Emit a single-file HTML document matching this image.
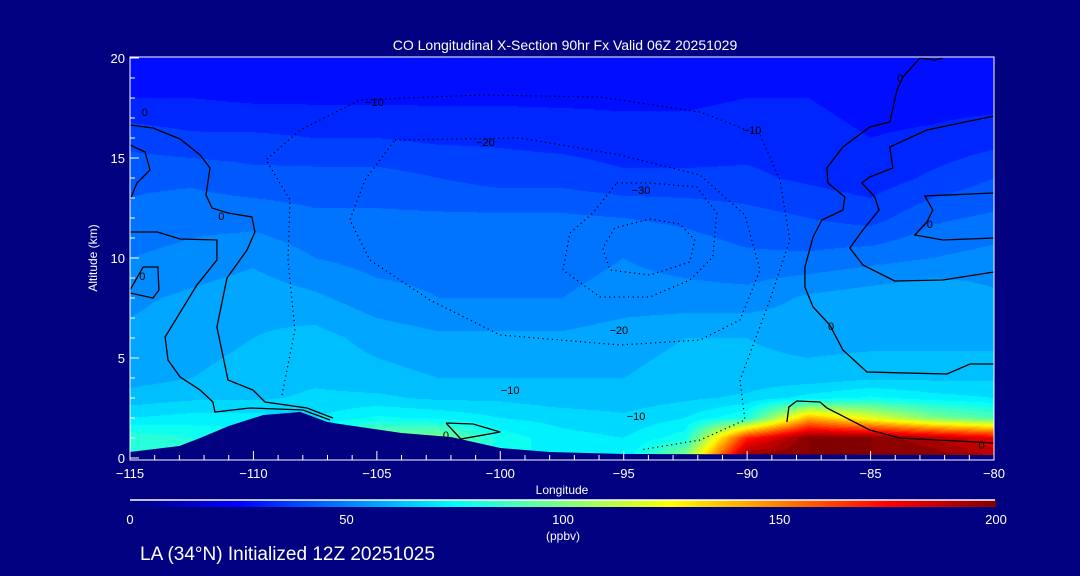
<!DOCTYPE html>
<html><head><meta charset="utf-8">
<style>
html,body{margin:0;padding:0;background:#000080;}
#wrap{position:relative;width:1080px;height:576px;background:#000080;overflow:hidden;font-family:"Liberation Sans",sans-serif;}
canvas,svg{position:absolute;left:0;top:0;}
</style></head>
<body>
<div id="wrap">
<canvas id="cv" width="1080" height="576"></canvas>
<svg id="sv" width="1080" height="576"></svg>
</div>
<script>
// ---- data ----
const lons = [-115,-112.5,-110,-107.5,-105,-102.5,-100,-97.5,-95,-92.5,-90,-87.5,-85,-82.5,-80];
const alts = [0,1,2,3,4,6,8,10,12,14,16,18,20];
const co0  = [84,80,80,80,96,92,78,72,70,105,200,200,200,200,190];
const co1  = [84,80,78,80,100,100,78,72,70,78,170,200,200,190,180];
const co2  = [70,72,72,70,76,74,70,68,66,70,80,140,120,100,90];
const co3  = [62,64,64,66,66,64,64,62,62,64,66,72,76,72,70];
const co4  = [58,60,62,64,62,60,60,60,60,62,62,62,64,64,64];
const co6  = [56,58,60,62,58,56,56,56,58,60,60,58,58,58,58];
const co8  = [54,56,58,56,52,50,50,50,52,52,52,56,58,60,56];
const co10 = [50,52,54,50,48,48,48,48,50,48,46,46,48,50,52];
const co12 = [46,48,48,46,46,46,46,46,45,44,42,40,38,44,46];
const co14 = [44,44,42,42,42,40,38,38,36,36,36,34,32,36,40];
const co16 = [38,36,36,35,35,34,34,33,32,32,33,32,30,31,33];
const co18 = [30,30,29,29,29,29,29,29,29,29,30,30,28,28,28];
const co20 = [28,28,28,28,28,28,28,28,28,28,28,28,27,27,27];
const coRows = [co0,co1,co2,co3,co4,co6,co8,co10,co12,co14,co16,co18,co20];

const terrainLon = [-115,-113,-112.16,-111,-109.6,-108.1,-107,-106.5,-104,-102,-100,-98,-95,-80];
const terrainAlt = [0.3,0.6,1.0,1.6,2.15,2.3,1.8,1.7,1.25,1.05,0.5,0.3,0.2,0.15];

// contour lines: [lon...], [alt...]
const c0aLon = [-115,-114.07,-112.97,-112.16,-111.76,-111.92,-111.68,-111.03,-110.06,-109.94,-110.26,-111.07,-111.48,-111.03,-110.02,-109.53,-107.83,-106.78];
const c0aAlt = [16.65,16.5,15.95,15.15,14.5,13.15,12.5,12.25,12.05,11.3,10.4,9.0,6.55,3.9,3.4,2.8,2.5,2.0];
const c0bLon = [-115,-113.9,-112.97,-111.48,-111.48,-112.29,-113.58,-113.46,-112.97,-112.16,-111.64,-111.56,-110.14,-107.99,-106.9];
const c0bAlt = [11.3,11.3,10.95,10.9,9.9,8.65,6.05,4.9,4.05,3.4,2.8,2.3,2.5,2.4,1.9];
const c0cLon = [-115,-114.39,-114.19,-114.72,-115];
const c0cAlt = [15.65,15.3,14.4,13.75,12.9];
const c0dLon = [-115,-114.47,-113.87,-113.83,-114.07,-115];
const c0dAlt = [8.4,9.55,9.55,8.4,8.0,8.25];
const c0eLon = [-83.0,-83.69,-83.93,-84.22,-85.03,-86.12,-86.77,-86.73,-86.04,-86.12,-86.97,-87.33,-87.66,-87.66,-87.33,-86.65,-86.12,-85.15,-81.91,-80.97,-80];
const c0eAlt = [20,19.05,18.4,16.8,16.55,15.55,14.5,13.75,13.05,12.4,11.9,11.05,9.55,8.55,7.55,6.65,5.4,4.3,4.2,4.7,4.7];
const c0fLon = [-80,-82.72,-84.22,-84.1,-85.03,-85.35,-84.83,-84.66,-85.31,-85.84,-85.31,-84.02,-82.07,-80];
const c0fAlt = [17.1,16.4,15.55,14.5,14.05,13.75,13.05,12.4,11.4,10.5,9.65,8.85,8.9,9.3];
const c0gLon = [-80,-82.8,-82.48,-82.72,-83.21,-82.07,-80];
const c0gAlt = [13.25,13.1,12.4,11.8,11.15,10.9,11.0];
const c0hLon = [-88.39,-88.31,-87.99,-87.05,-86.77,-85.03,-83.81,-80];
const c0hAlt = [1.8,2.55,2.85,2.8,2.5,1.4,1.0,0.75];
const c0iLon = [-83.0,-82.4,-82.07];
const c0iAlt = [20,19.9,20];
const c0jLon = [-102.2,-101.1,-100.0,-101.6,-102.2];
const c0jAlt = [1.75,1.7,1.3,0.95,1.75];
const m30Lon = [-93.94,-92.73,-92.12,-92.32,-93.94,-95.56,-95.85,-95.36,-93.94];
const m30Alt = [11.95,11.7,10.9,9.8,9.15,9.4,10.5,11.5,11.95];
const m20aLon = [-95.28,-93.94,-92.04,-91.23,-91.39,-92.32,-93.94,-95.97,-97.46,-97.18,-96.25,-95.28];
const m20aAlt = [13.75,13.75,13.55,12.25,10.05,8.9,8.05,8.05,9.4,11.25,12.25,13.75];
const m20bLon = [-104.27,-99.2,-95.15,-91.91,-90.09,-89.48,-90.29,-91.91,-95.15,-100.01,-102.85,-105.28,-106.09,-105.48,-104.27];
const m20bAlt = [15.9,16.0,15.15,14.15,12.15,9.4,6.9,5.9,5.65,6.15,7.9,9.9,11.9,13.9,15.9];
const m10Lon = [-108.84,-108.32,-108.6,-108.52,-109.49,-108.11,-105.68,-100.82,-95.96,-91.91,-89.48,-88.67,-88.27,-89.08,-90.29,-90.09,-91.91,-94.34];
const m10Alt = [3.15,6.4,9.9,12.9,14.9,16.4,17.9,18.15,18.05,17.3,16.15,13.9,10.9,7.9,3.9,1.9,0.9,0.4];

const xTicks = [-115,-110,-105,-100,-95,-90,-85,-80];
const xTickLabels = ['\u2212115','\u2212110','\u2212105','\u2212100','\u221295','\u221290','\u221285','\u221280'];
const yTicks = [0,5,10,15,20];
const yTickLabels = ['0','5','10','15','20'];
const cbTicks = [0,50,100,150,200];
const cbTickLabels = ['0','50','100','150','200'];

// ---- scales ----
const X0=130, X1=994, Y0=458, Y1=58;
const lonMin=-115, lonMax=-80;
function sx(l){return X0+(l-lonMin)/(lonMax-lonMin)*(X1-X0);}
function sy(a){return Y0+(a/20)*(Y1-Y0);}
function jet(t){t=Math.max(0,Math.min(1,t));const c=v=>Math.round(255*Math.max(0,Math.min(1,v)));
 return [c(1.5-Math.abs(4*t-3)),c(1.5-Math.abs(4*t-2)),c(1.5-Math.abs(4*t-1))];}
function valueAt(l,a){
 let i=0;while(i<lons.length-2&&l>lons[i+1])i++;
 let j=0;while(j<alts.length-2&&a>alts[j+1])j++;
 const fx=Math.max(0,Math.min(1,(l-lons[i])/(lons[i+1]-lons[i])));
 const fy=Math.max(0,Math.min(1,(a-alts[j])/(alts[j+1]-alts[j])));
 const r0=coRows[j],r1=coRows[j+1];
 return (r0[i]*(1-fx)+r0[i+1]*fx)*(1-fy)+(r1[i]*(1-fx)+r1[i+1]*fx)*fy;
}
// ---- field ----
const cv=document.getElementById('cv');const ctx=cv.getContext('2d');
const img=ctx.createImageData(X1-X0,458-57);
for(let py=57;py<458;py++){for(let px=X0;px<X1;px++){
 const l=lonMin+(px+0.5-X0)/(X1-X0)*(lonMax-lonMin);
 const a=(Y0-py-0.5)/(Y0-Y1)*20;
 let v=valueAt(l,a);v=Math.floor(v/5)*5+2.5;
 const c=jet(v/200);const k=((py-57)*(X1-X0)+(px-X0))*4;
 img.data[k]=c[0];img.data[k+1]=c[1];img.data[k+2]=c[2];img.data[k+3]=255;}}
ctx.putImageData(img,X0,57);

// ---- svg overlay ----
const NS='http://www.w3.org/2000/svg';const sv=document.getElementById('sv');
function mk(tag,attrs,parent){const e=document.createElementNS(NS,tag);for(const k in attrs)e.setAttribute(k,attrs[k]);(parent||sv).appendChild(e);return e;}
// terrain
let tp='M'+sx(terrainLon[0])+','+460;
terrainLon.forEach((l,i)=>{tp+=' L'+sx(l).toFixed(1)+','+sy(terrainAlt[i]).toFixed(1);});
tp+=' L'+X1+',460 Z';
const terr=mk('path',{d:tp,fill:'#000080'});


// contours
const contours=[[c0aLon,c0aAlt,0],[c0bLon,c0bAlt,0],[c0cLon,c0cAlt,0],[c0dLon,c0dAlt,0],[c0eLon,c0eAlt,0],[c0fLon,c0fAlt,0],[c0gLon,c0gAlt,0],[c0hLon,c0hAlt,0],[c0iLon,c0iAlt,0],[c0jLon,c0jAlt,0],[m30Lon,m30Alt,1],[m20aLon,m20aAlt,1],[m20bLon,m20bAlt,1],[m10Lon,m10Alt,1]];
contours.forEach((c,n)=>{
 const pts=c[0].map((l,i)=>sx(l).toFixed(1)+','+sy(c[1][i]).toFixed(1)).join(' ');
 const pl=mk('polyline',{points:pts,fill:'none',stroke:'#000',
  'stroke-width':c[2]?1.2:1.3,'stroke-dasharray':c[2]?'1.2 3.5':'none'});
 
 
});
// contour labels
const clabLon=[-114.4,-111.3,-114.5,-83.8,-82.6,-86.6,-80.5,-102.2,-105.1,-100.6,-94.3,-95.2,-94.5,-89.8,-99.6];
const clabAlt=[17.3,12.1,9.1,19.0,11.7,6.6,0.65,1.15,17.8,15.8,13.4,6.4,2.1,16.4,3.4];
const clabTxt=['0','0','0','0','0','0','0','0','\u221210','\u221220','\u221230','\u221220','\u221210','\u221210','\u221210'];
clabLon.forEach((l,i)=>{
 const t=mk('text',{x:sx(l),y:sy(clabAlt[i])+4,'font-size':11,fill:'#000','text-anchor':'middle'});
 t.textContent=clabTxt[i];
 
 
});
// frame
const fr=mk('rect',{x:130,y:57,width:864,height:403,fill:'none',stroke:'#fff','stroke-width':1});


// x ticks
for(let l=-115;l<=-80;l++){const major=(l%5===0);
 const tk=mk('line',{x1:sx(l),x2:sx(l),y1:460,y2:major?451:455,stroke:'#fff','stroke-width':1});
 
 }
xTicks.forEach((l,i)=>{const t=mk('text',{x:sx(l),y:478,'font-size':13,fill:'#fff','text-anchor':'middle'});t.textContent=xTickLabels[i];
 
 });
for(let a=0;a<=20;a++){const major=(a%5===0);
 const tk=mk('line',{x1:130,x2:major?139:135,y1:sy(a),y2:sy(a),stroke:'#fff','stroke-width':1});
 
 }
yTicks.forEach((a,i)=>{const t=mk('text',{x:125,y:sy(a)+5,'font-size':13,fill:'#fff','text-anchor':'end'});t.textContent=yTickLabels[i];
 
 });
// titles
const tt=mk('text',{x:565,y:50,'font-size':14,fill:'#fff','text-anchor':'middle','xml:space':'preserve'});
tt.textContent='CO Longitudinal X-Section 90hr  Fx Valid 06Z 20251029';


const yt=mk('text',{x:0,y:0,'font-size':12,fill:'#fff','text-anchor':'middle',transform:'translate(97,258) rotate(-90)'});
yt.textContent='Altitude (km)';


const xt=mk('text',{x:562,y:494,'font-size':12,fill:'#fff','text-anchor':'middle'});
xt.textContent='Longitude';


// colorbar
const defs=mk('defs',{});const lg=mk('linearGradient',{id:'jetg',x1:0,x2:1,y1:0,y2:0},defs);
[[0,'#000080'],[0.125,'#0000ff'],[0.375,'#00ffff'],[0.625,'#ffff00'],[0.875,'#ff0000'],[1,'#800000']].forEach(s=>mk('stop',{offset:s[0],'stop-color':s[1]},lg));
const cb=mk('rect',{x:130,y:500,width:866,height:7,fill:'url(#jetg)'});


const cbl=mk('line',{x1:130,x2:995,y1:500,y2:500,stroke:'#fff','stroke-width':1.5});


cbTicks.forEach((v,i)=>{const t=mk('text',{x:130+v/200*866,y:524,'font-size':13,fill:'#fff','text-anchor':'middle'});t.textContent=cbTickLabels[i];
 
 });
const ut=mk('text',{x:563,y:540,'font-size':12,fill:'#fff','text-anchor':'middle'});
ut.textContent='(ppbv)';


const ft=mk('text',{x:140,y:560,'font-size':19,fill:'#fff'});
ft.textContent='LA (34\u00B0N) Initialized 12Z 20251025';


</script>
</body></html>
